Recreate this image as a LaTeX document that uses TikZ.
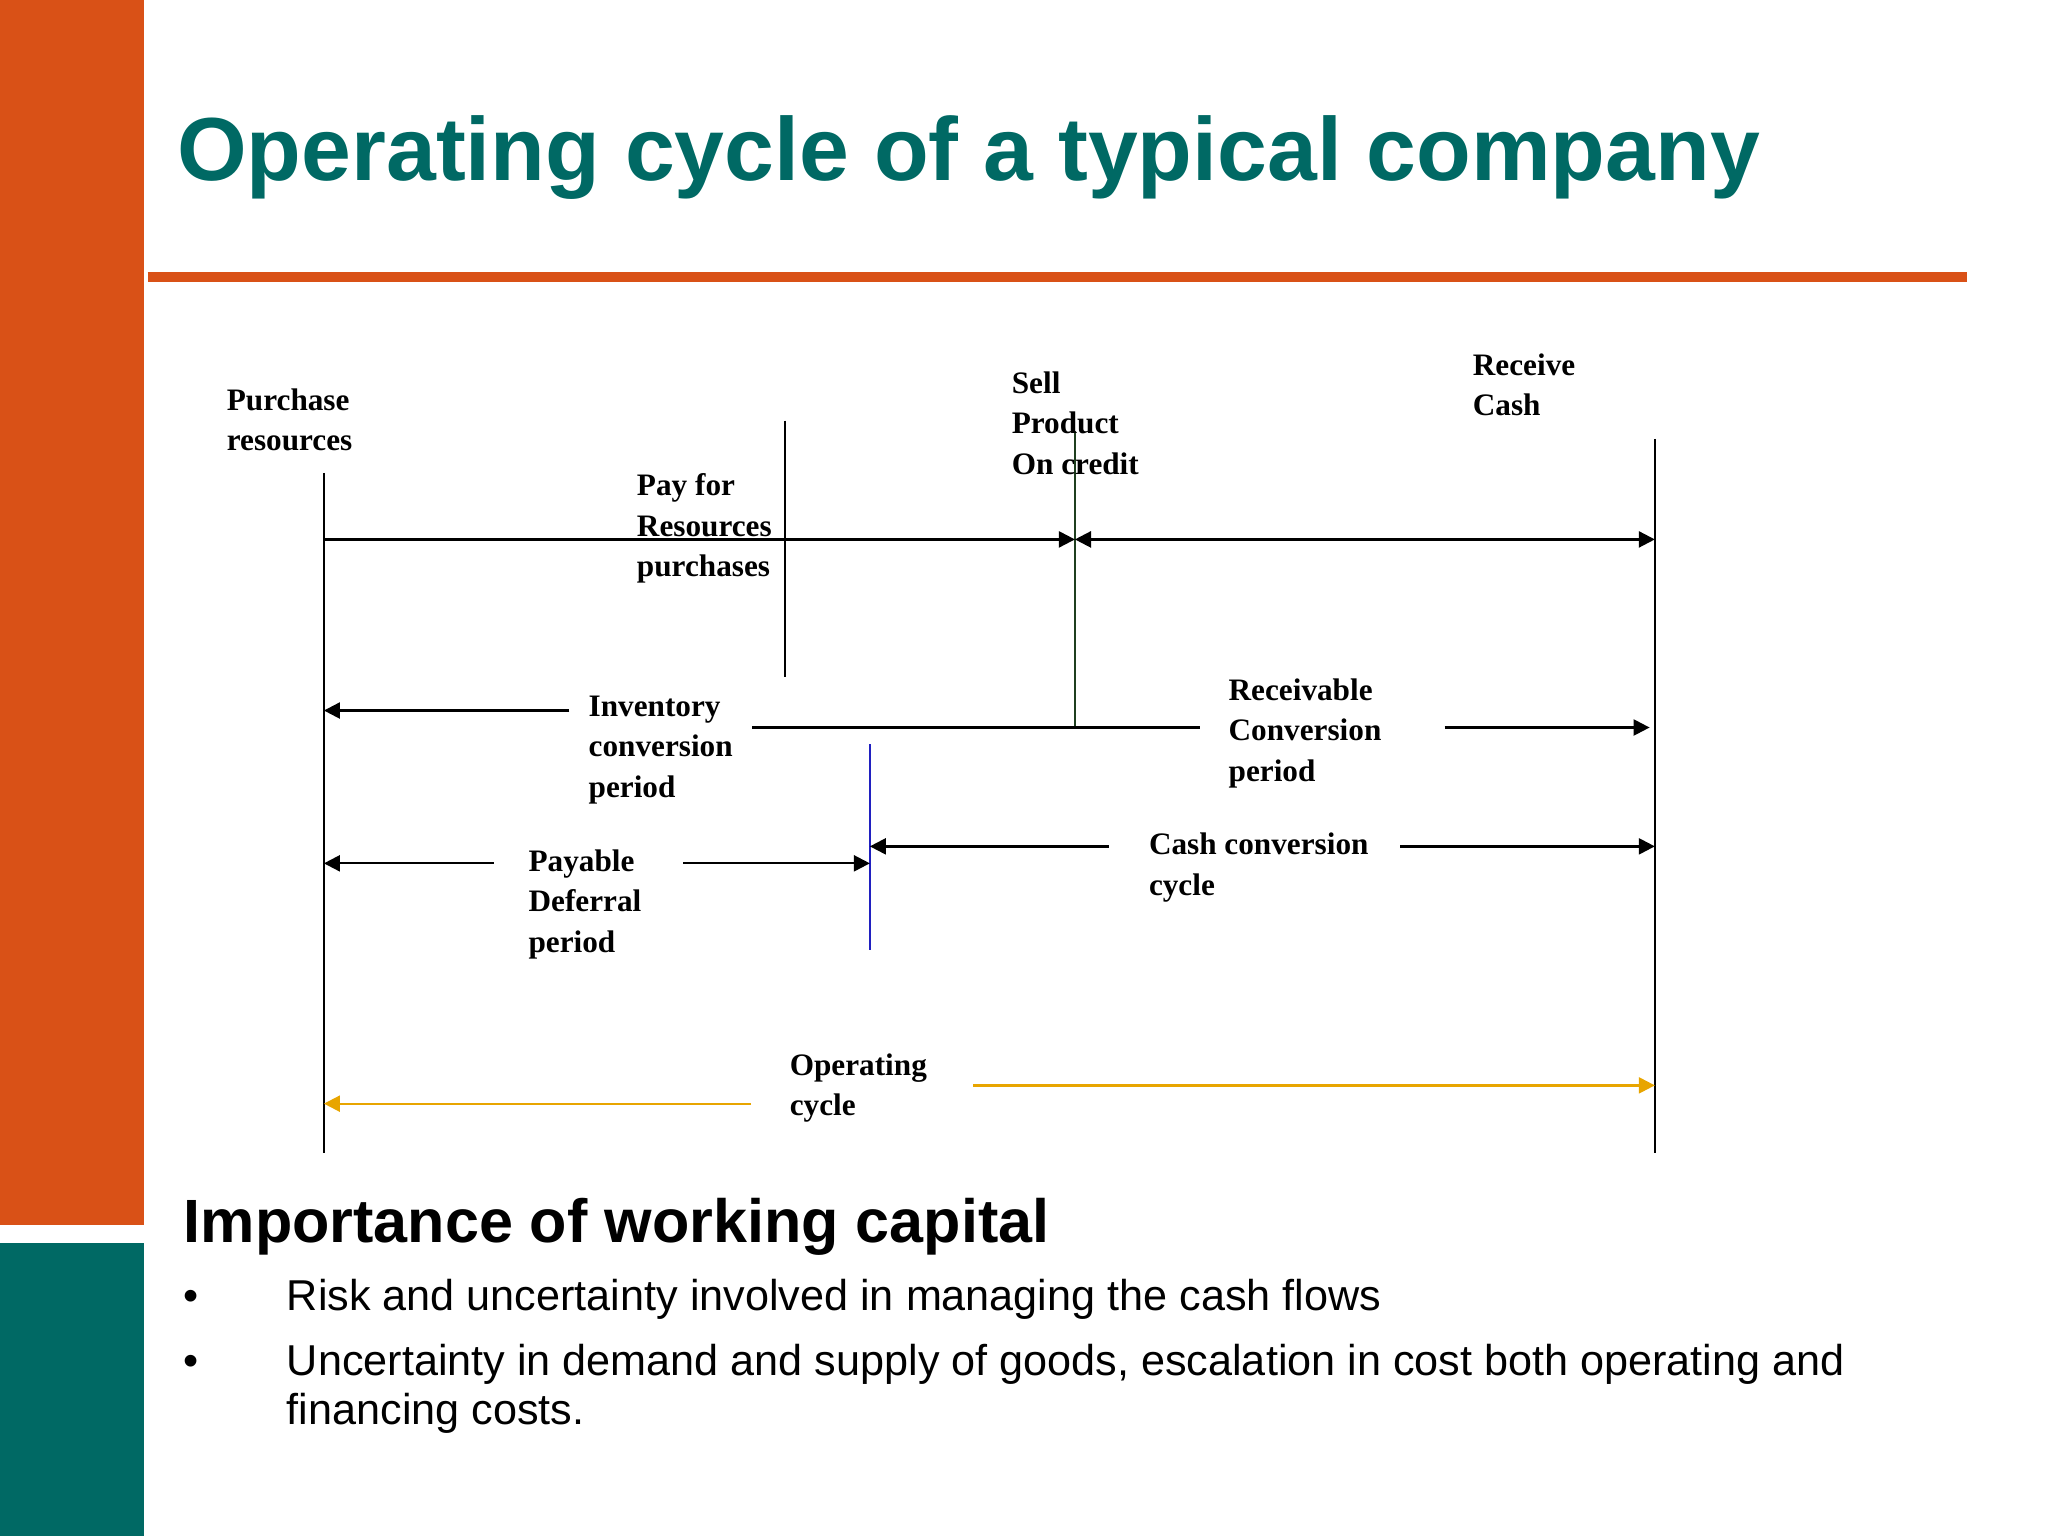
\documentclass[tikz,border=0pt]{standalone}
\usepackage{fontspec}
\setmainfont{Liberation Serif}
\setsansfont{Liberation Sans}
\usetikzlibrary{arrows.meta}
\definecolor{orng}{HTML}{D95117}
\definecolor{teal}{HTML}{006964}
\definecolor{gold}{HTML}{E8A500}
\definecolor{dgreen}{HTML}{1F3F1F}
\definecolor{blu}{HTML}{2020C0}
\tikzset{
 lbl/.style={anchor=north west,inner sep=0pt,align=left,font=\fontsize{6.8}{8.8}\selectfont\bfseries},
 arr/.style={-{Triangle[length=3.5pt,width=3.5pt]},line width=0.5pt},
 vl/.style={line width=0.5pt},
}
\begin{document}
\begin{tikzpicture}[x=0.01cm,y=-0.01cm]
\useasboundingbox (0,0) rectangle (1568,1176);
\fill[orng] (0,0) rectangle (110,938);
\fill[teal] (0,952) rectangle (110,1176);
\node[anchor=base west,inner sep=0pt,text=teal,font=\sffamily\bfseries\fontsize{19.5}{22}\selectfont] (title) at (135,138) {Operating cycle of a typical company};
\draw[orng,line width=2.3pt] (113,212) -- (1506,212);
% vertical lines
\coordinate (a1) at (248,362); \coordinate (a2) at (248,883);
\coordinate (b1) at (601,322); \coordinate (b2) at (601,518);
\coordinate (c1) at (823,330); \coordinate (c2) at (823,557);
\coordinate (d1) at (666,570); \coordinate (d2) at (666,727);
\coordinate (e1) at (1267,336); \coordinate (e2) at (1267,883);
\draw[vl] (a1)--(a2); \draw[vl] (b1)--(b2); \draw[vl,dgreen] (c1)--(c2);
\draw[vl,blu] (d1)--(d2); \draw[vl] (e1)--(e2);
% labels
\node[lbl] (pr) at (173,297) {Purchase\\resources};
\node[lbl] (pay) at (487,362) {Pay for\\Resources\\purchases};
\node[lbl] (sell) at (774,284) {Sell\\Product\\On credit};
\node[lbl] (rc) at (1127,270) {Receive\\Cash};
\node[lbl] (icp) at (450,532) {Inventory\\conversion\\period};
\node[lbl] (rcp) at (940,519) {Receivable\\Conversion\\period};
\node[lbl] (pdp) at (404,650) {Payable\\Deferral\\period};
\node[lbl] (ccc) at (879,637) {Cash conversion\\cycle};
\node[lbl] (oc) at (604,806) {Operating\\cycle};
% arrows
\draw[arr] (248,413) -- (823,413);
\draw[arr,{Triangle[length=3.5pt,width=3.5pt]}-{Triangle[length=3.5pt,width=3.5pt]}] (823,413) -- (1267,413);
\draw[arr] (436,544) -- (248,544);
\draw[vl] (576,557) -- (919,557);
\draw[arr] (1106,557) -- (1263,557);
\draw[arr] (378,661) -- (248,661);
\draw[arr] (523,661) -- (666,661);
\draw[arr] (849,648) -- (666,648);
\draw[arr] (1072,648) -- (1267,648);
\draw[arr,gold] (575,845) -- (248,845);
\draw[arr,gold] (745,831) -- (1267,831);
% bottom text
\node[anchor=base west,inner sep=0pt,font=\sffamily\bfseries\fontsize{13.3}{16}\selectfont] (imp) at (140,951) {Importance of working capital};
\begin{scope}[every node/.style={anchor=base west,inner sep=0pt,font=\sffamily\fontsize{9.4}{11}\selectfont}]
\node (b1t) at (140,1003) {•};
\node (t1) at (219,1003) {Risk and uncertainty involved in managing the cash flows};
\node (b2t) at (140,1053) {•};
\node (t2) at (219,1053) {Uncertainty in demand and supply of goods, escalation in cost both operating and};
\node (t3) at (219,1091) {financing costs.};
\end{scope}
\end{tikzpicture}
\end{document}
